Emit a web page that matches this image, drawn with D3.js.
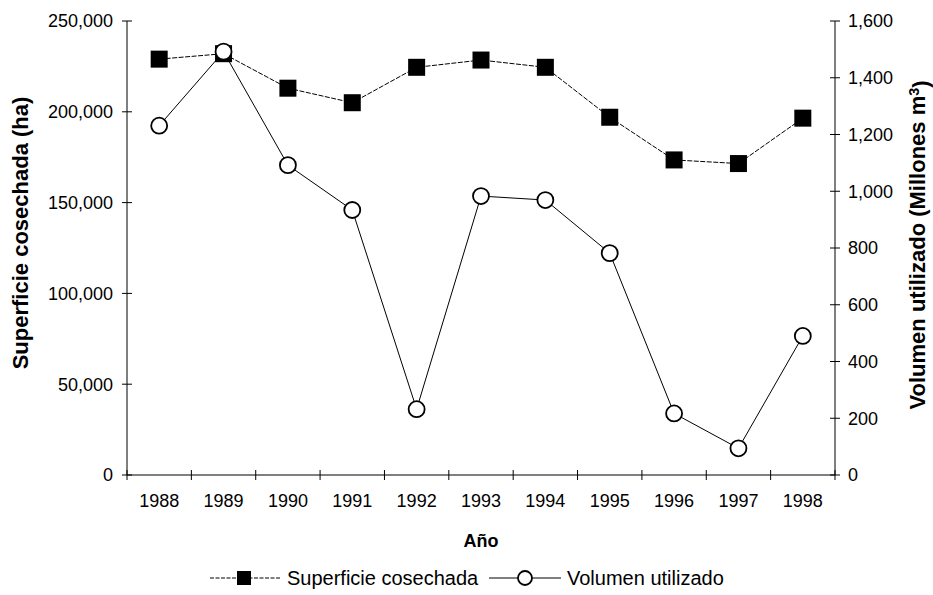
<!DOCTYPE html>
<html><head><meta charset="utf-8">
<script src="https://cdn.jsdelivr.net/npm/d3@7"></script>
<style>body{margin:0;background:#fff}svg{display:block;font-family:"Liberation Sans",Arial,sans-serif}</style>
</head><body>
<svg id="c" width="933" height="595"></svg>
<script>
const years = ["1988","1989","1990","1991","1992","1993","1994","1995","1996","1997","1998"];
const superficie = [229000, 232000, 213000, 205000, 224500, 228500, 224500, 197000, 173500, 171500, 196500];
const volumen = [1231, 1492, 1092, 934, 232, 983, 969, 782, 217, 94, 490];
const leftTicks = [0, 50000, 100000, 150000, 200000, 250000];
const rightTicks = [0, 200, 400, 600, 800, 1000, 1200, 1400, 1600];

const svg = d3.select("#c");
const m = {l:127, r:835, t:21, b:475};
const x = d3.scaleBand().domain(years).range([m.l, m.r]);
const yL = d3.scaleLinear().domain([0, 250000]).range([m.b, m.t]);
const yR = d3.scaleLinear().domain([0, 1600]).range([m.b, m.t]);
const fmt = d3.format(",");
const fs = 18;

// x axis
const gx = svg.append("g").attr("transform", `translate(0,${m.b})`);
gx.append("line").attr("x1", m.l).attr("x2", m.r).attr("stroke", "#000");
gx.selectAll("line.t").data(d3.range(years.length + 1)).enter().append("line")
  .attr("x1", i => m.l + i * x.step()).attr("x2", i => m.l + i * x.step())
  .attr("y1", -5).attr("y2", 5).attr("stroke", "#000");
gx.selectAll("text").data(years).enter().append("text")
  .attr("x", d => x(d) + x.bandwidth()/2).attr("y", 32)
  .attr("text-anchor", "middle").attr("font-size", fs).attr("fill", "#000").text(d => d);

// left axis
const gl = svg.append("g");
gl.append("line").attr("x1", m.l).attr("x2", m.l).attr("y1", m.t).attr("y2", m.b).attr("stroke", "#000");
gl.selectAll("line.t").data(leftTicks).enter().append("line")
  .attr("x1", m.l - 5).attr("x2", m.l + 5).attr("y1", d => yL(d)).attr("y2", d => yL(d)).attr("stroke", "#000");
gl.selectAll("text").data(leftTicks).enter().append("text")
  .attr("x", m.l - 14).attr("y", d => yL(d)).attr("dy", "0.35em")
  .attr("text-anchor", "end").attr("font-size", fs).attr("fill", "#000").text(d => fmt(d));

// right axis
const gr = svg.append("g");
gr.append("line").attr("x1", m.r).attr("x2", m.r).attr("y1", m.t).attr("y2", m.b).attr("stroke", "#000");
gr.selectAll("line.t").data(rightTicks).enter().append("line")
  .attr("x1", m.r - 5).attr("x2", m.r + 5).attr("y1", d => yR(d)).attr("y2", d => yR(d)).attr("stroke", "#000");
gr.selectAll("text").data(rightTicks).enter().append("text")
  .attr("x", m.r + 13).attr("y", d => yR(d)).attr("dy", "0.35em")
  .attr("text-anchor", "start").attr("font-size", fs).attr("fill", "#000").text(d => fmt(d));

// titles
const ts = 22;
svg.append("text").attr("x", 481).attr("y", 547).attr("text-anchor", "middle")
  .attr("font-size", fs).attr("font-weight", "bold").text("Año");
svg.append("text").attr("transform", "translate(28,233) rotate(-90)").attr("text-anchor", "middle")
  .attr("font-size", ts).attr("font-weight", "bold").text("Superficie cosechada (ha)");
const rt = svg.append("text").attr("transform", "translate(925,245) rotate(-90)").attr("text-anchor", "middle")
  .attr("font-size", ts).attr("font-weight", "bold");
rt.append("tspan").text("Volumen utilizado (Millones m");
rt.append("tspan").attr("dy", "-0.45em").attr("font-size", ts*0.65).text("3");
rt.append("tspan").attr("dy", "0.45em").text(")");

const cx = d => x(d) + x.bandwidth()/2;

// superficie line (dashed)
svg.append("path").datum(superficie)
  .attr("d", d3.line().x((d,i) => cx(years[i])).y(d => yL(d)))
  .attr("fill", "none").attr("stroke", "#000").attr("stroke-width", 1).attr("stroke-dasharray", "5,1.5");
svg.selectAll("rect.sq").data(superficie).enter().append("rect")
  .attr("x", (d,i) => cx(years[i]) - 8.5).attr("y", d => yL(d) - 8.5)
  .attr("width", 17).attr("height", 17).attr("fill", "#000");

// volumen line
svg.append("path").datum(volumen)
  .attr("d", d3.line().x((d,i) => cx(years[i])).y(d => yR(d)))
  .attr("fill", "none").attr("stroke", "#000").attr("stroke-width", 1);
svg.selectAll("circle.ci").data(volumen).enter().append("circle")
  .attr("cx", (d,i) => cx(years[i])).attr("cy", d => yR(d)).attr("r", 8)
  .attr("fill", "#fff").attr("stroke", "#000").attr("stroke-width", 1.8);

// legend
const ly = 578, lfs = 20;
const lg = svg.append("g");
lg.append("line").attr("x1", 210).attr("x2", 281).attr("y1", ly).attr("y2", ly)
  .attr("stroke", "#000").attr("stroke-dasharray", "4,1.5");
lg.append("rect").attr("x", 244 - 7).attr("y", ly - 7).attr("width", 14).attr("height", 14).attr("fill", "#000");
lg.append("text").attr("x", 287).attr("y", ly).attr("dy", "0.35em").attr("font-size", lfs).text("Superficie cosechada");
lg.append("line").attr("x1", 489).attr("x2", 561).attr("y1", ly).attr("y2", ly).attr("stroke", "#000");
lg.append("circle").attr("cx", 525).attr("cy", ly).attr("r", 7).attr("fill", "#fff").attr("stroke", "#000").attr("stroke-width", 1.8);
lg.append("text").attr("x", 567).attr("y", ly).attr("dy", "0.35em").attr("font-size", lfs).text("Volumen utilizado");
</script>
</body></html>
